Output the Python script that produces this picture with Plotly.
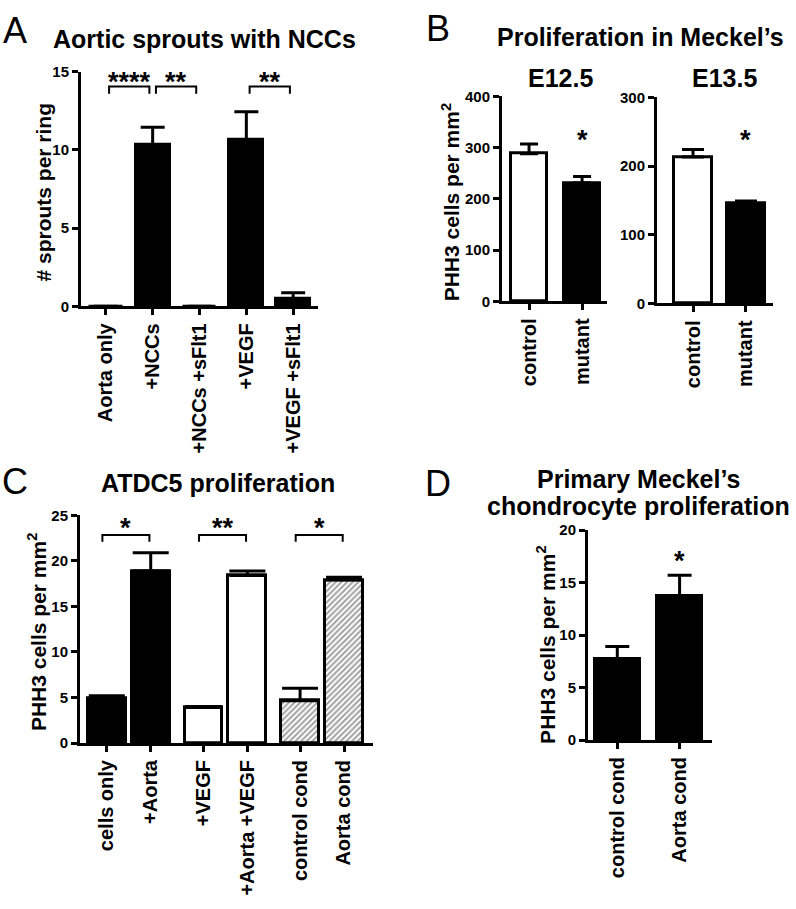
import plotly.graph_objects as go

W, H = 796, 909
FONT = "Liberation Sans, Arial, Helvetica, sans-serif"

# ---------------- data ----------------
# Panel A
a_cats = ["Aorta only", "+NCCs", "+NCCs +sFlt1", "+VEGF", "+VEGF +sFlt1"]
a_vals = [0, 10.3, 0, 10.65, 0.5]
a_err = [0, 1.15, 0, 1.8, 0.37]
a_sig = [(0, 1, "****"), (1, 2, "**"), (3, 4, "**")]

# Panel B
b_cats = ["control", "mutant"]
b1_vals = [288, 231]
b1_err = [19, 12.5]
b2_vals = [213, 146]
b2_err = [11, 3]

# Panel C
c_cats = ["cells only", "+Aorta", "+VEGF", "+Aorta +VEGF", "control cond", "Aorta cond"]
c_group = [0, 0, 1, 1, 2, 2]
c_vals = [4.85, 18.9, 3.9, 18.4, 4.65, 17.9]
c_err = [0.35, 2.0, 0.1, 0.5, 1.35, 0.3]
c_sig = [(0, 1, "*"), (2, 3, "**"), (4, 5, "*")]

# Panel D
d_cats = ["control cond", "Aorta cond"]
d_vals = [7.75, 13.7]
d_err = [1.15, 2.0]


def px(x):
    return x / W


def py(y):
    return 1 - y / H


def xax(d0, d1, rng, tickvals, ticktext, anchor):
    return dict(domain=[px(d0), px(d1)], range=rng, anchor=anchor,
                tickmode="array", tickvals=tickvals, ticktext=ticktext,
                showline=True, linecolor="black", linewidth=3,
                ticks="outside", ticklen=6, tickwidth=3, tickcolor="black",
                tickangle=-90, showgrid=False, zeroline=False,
                tickfont=dict(family=FONT, size=20, color="black", weight="bold"))


def yax(d_top, d_bot, rng, dtick, anchor):
    return dict(domain=[py(d_bot), py(d_top)], range=rng, anchor=anchor,
                tickmode="linear", tick0=0, dtick=dtick,
                showline=True, linecolor="black", linewidth=3,
                ticks="outside", ticklen=6, tickwidth=3, tickcolor="black",
                showgrid=False, zeroline=False,
                tickfont=dict(family=FONT, size=15, color="black", weight="bold"))


fig = go.Figure()


def add_bars(xs, vals, errs, colors, width, cap, xa, ya, shapes=None):
    n = len(vals)
    marker = dict(color=colors, line=dict(color="black", width=3))
    if shapes is not None:
        marker["pattern"] = dict(shape=shapes, fgcolor="black", bgcolor="white",
                                 size=4, solidity=0.5)
    fig.add_trace(go.Bar(
        x=xs, y=vals, width=width, marker=marker,
        error_y=dict(type="data", symmetric=False, array=errs, arrayminus=[0] * n,
                     color="black", thickness=3, width=cap),
        xaxis=xa, yaxis=ya, showlegend=False, hoverinfo="skip"))


# Panel A
a_x = list(range(len(a_cats)))
add_bars(a_x, a_vals, a_err, ["black"] * 5, 0.72, 12, "x", "y")
# Panel B
b_x = list(range(len(b_cats)))
add_bars(b_x, b1_vals, b1_err, ["white", "black"], 0.68, 9, "x2", "y2")
add_bars(b_x, b2_vals, b2_err, ["white", "black"], 0.70, 11, "x3", "y3")
# Panel C
c_x = [i + 0.2 * g for i, g in enumerate(c_group)]
add_bars(c_x, c_vals, c_err, ["black", "black", "white", "white", "white", "white"],
         0.86, 18, "x4", "y4", shapes=["", "", "", "", "/", "/"])
# Panel D
d_x = list(range(len(d_cats)))
add_bars(d_x, d_vals, d_err, ["black", "black"], 0.73, 12, "x5", "y5")

layout = dict(
    width=W, height=H, autosize=False,
    margin=dict(l=0, r=0, t=0, b=0),
    paper_bgcolor="white", plot_bgcolor="white",
    bargap=0,
    xaxis=xax(81, 318, [-0.53, 4.53], a_x, a_cats, "y"),
    yaxis=yax(64, 303, [0, 15], 5, "x"),
    xaxis2=xax(502, 607, [-0.51, 1.47], b_x, b_cats, "y2"),
    yaxis2=yax(89, 298, [0, 400], 100, "x2"),
    xaxis3=xax(657, 773, [-0.68, 1.51], b_x, b_cats, "y3"),
    yaxis3=yax(90, 300, [0, 300], 100, "x3"),
    xaxis4=xax(80, 373, [-0.61, 6.06], c_x, c_cats, "y4"),
    yaxis4=yax(516, 748, [0, 25], 5, "x4"),
    xaxis5=xax(588, 712, [-0.47, 1.52], d_x, d_cats, "y5"),
    yaxis5=yax(531, 745, [0, 20], 5, "x5"),
)

ann = []
shapes = []


def text(x, y, s, size, bold=True, angle=0):
    ann.append(dict(x=px(x), y=py(y), xref="paper", yref="paper", text=s,
                    showarrow=False, xanchor="center", yanchor="middle",
                    textangle=angle,
                    font=dict(family=FONT, size=size, color="black",
                              weight="bold" if bold else "normal")))


# panel letters
text(15, 22, "A", 36, bold=False)
text(438, 20, "B", 36, bold=False)
text(15, 482, "C", 36, bold=False)
text(438, 484, "D", 36, bold=False)

# titles
text(205, 31, "Aortic sprouts with NCCs", 25)
text(640, 29, "Proliferation in Meckel’s", 25)
text(560, 70, "E12.5", 25)
text(724, 70, "E13.5", 25)
text(218, 483, "ATDC5 proliferation", 25)
text(638, 479, "Primary Meckel’s", 25)
text(638, 506, "chondrocyte proliferation", 25)

# y-axis titles
text(44, 187, "# sprouts per ring", 21, angle=-90)
text(451, 197, "PHH3 cells per mm<sup>2</sup>", 21, angle=-90)
text(37, 635, "PHH3 cells per mm<sup>2</sup>", 21, angle=-90)
text(546, 648, "PHH3 cells per mm<sup>2</sup>", 21, angle=-90)


def star(x, y, s, xa, ya):
    ann.append(dict(x=x, y=y, xref=xa, yref=ya, text=s, showarrow=False,
                    xanchor="center", yanchor="middle", yshift=-6,
                    font=dict(family=FONT, size=27, color="black", weight="bold")))


def bracket(x0, x1, ytop, ylow, xa, ya):
    shapes.append(dict(type="path", xref=xa, yref=ya,
                       path=f"M {x0},{ylow} L {x0},{ytop} L {x1},{ytop} L {x1},{ylow}",
                       line=dict(color="black", width=2)))


for i, j, s in a_sig:
    x0, x1 = a_x[i] + 0.07, a_x[j] - 0.07
    bracket(x0, x1, 14.06, 13.6, "x", "y")
    star((x0 + x1) / 2, 14.75, s, "x", "y")

for i, j, s in c_sig:
    x0, x1 = c_x[i] - 0.1, c_x[j] - 0.03
    bracket(x0, x1, 22.85, 22.1, "x4", "y4")
    star((x0 + x1) / 2, 24.25, s, "x4", "y4")

star(b_x[1], 327, "*", "x2", "y2")
star(b_x[1], 247, "*", "x3", "y3")
star(d_x[1], 17.6, "*", "x5", "y5")

layout["annotations"] = ann
layout["shapes"] = shapes
fig.update_layout(**layout)
fig.write_html("out.html", config={"displayModeBar": False},
               post_script="document.body.style.margin='0';document.body.style.padding='0';")
